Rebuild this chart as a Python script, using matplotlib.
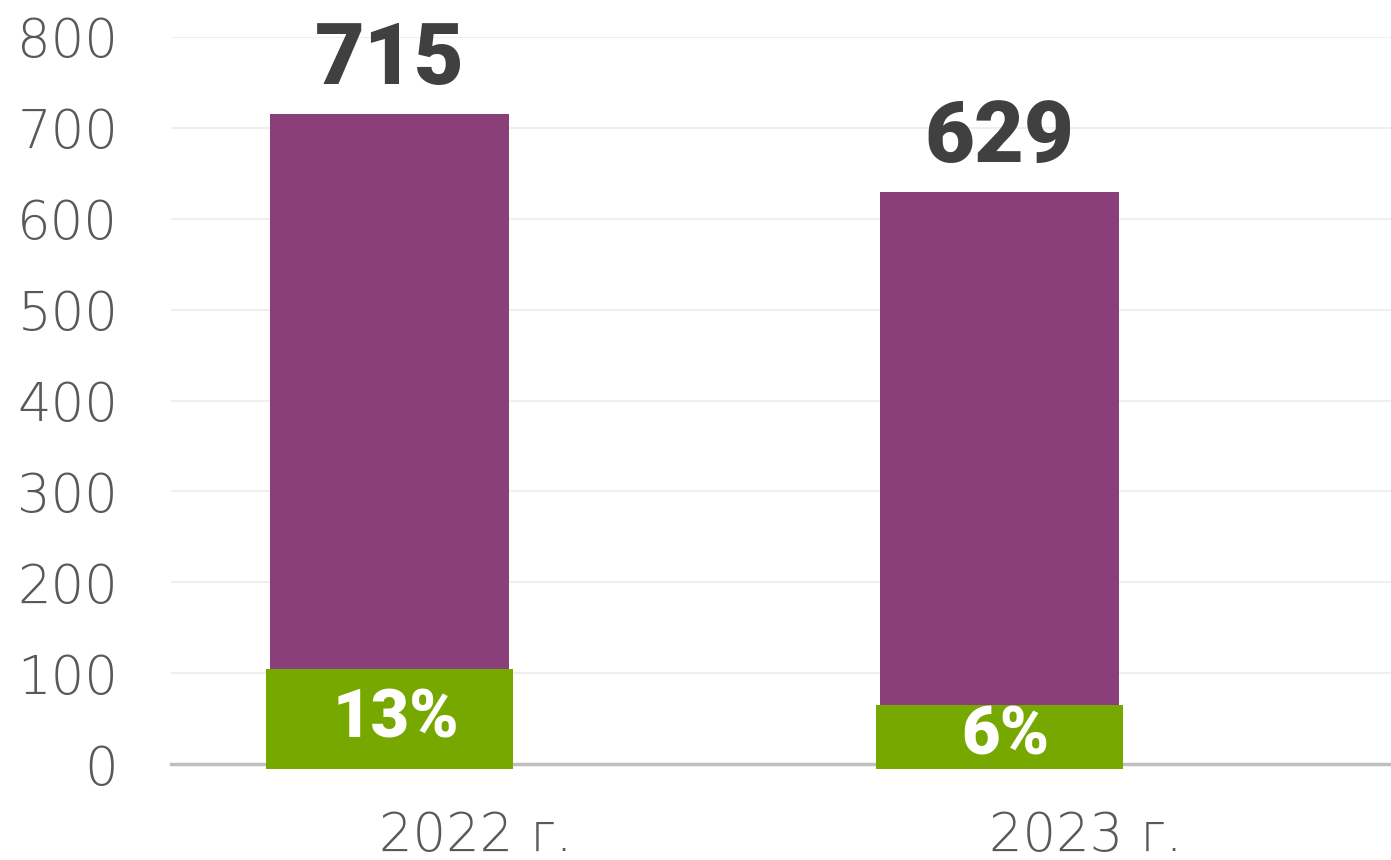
import numpy as np
import matplotlib.pyplot as plt

# --- data ---
years = ["2022 г.", "2023 г."]
totals = [715, 629]
shares = ["13%", "6%"]
share_box_top = [105, 65]     # visual height of the green label boxes
share_box_bottom = [-6, -5]

purple = "#8B3F7A"
green = "#76A800"

plt.rcParams['font.family'] = ['Roboto', 'DejaVu Sans']

fig = plt.figure(figsize=(13.91, 8.6), dpi=100)
ax = fig.add_axes([171 / 1391, 96 / 860, 1220 / 1391, 727 / 860])

x = np.arange(len(years))
offset = -0.142

ax.bar(x + offset, totals, width=0.393, color=purple, zorder=2)

box_h = np.array(share_box_top) - np.array(share_box_bottom)
ax.bar(x + offset, box_h, bottom=share_box_bottom, width=0.405,
       color=green, zorder=3, clip_on=False)

for i in range(len(years)):
    ax.annotate(str(totals[i]), (x[i] + offset, totals[i]), xytext=(0, 22),
                textcoords='offset points', ha='center', va='baseline',
                fontsize=62, fontweight='black', color='#404040',
                annotation_clip=False)
    mid = (share_box_top[i] + share_box_bottom[i]) / 2
    ax.text(x[i] + offset + 0.01, mid, shares[i], ha='center', va='center',
            fontsize=48, fontweight='black', color='white', zorder=4)

ax.set_xlim(-0.5, 1.5)
ax.set_ylim(0, 800)
ax.set_yticks(range(0, 801, 100))
ax.set_xticks(x)
ax.set_xticklabels(years)

ax.grid(axis='y', color='#EFEFEF', linewidth=1.5, zorder=0)
ax.set_axisbelow(True)
for s in ['top', 'right', 'left']:
    ax.spines[s].set_visible(False)
ax.spines['bottom'].set_color('#BFBFBF')
ax.spines['bottom'].set_linewidth(2.5)
ax.spines['bottom'].set_zorder(1)

ax.tick_params(axis='both', length=0, labelsize=38, labelcolor='#595959')
ax.tick_params(axis='y', pad=38)
ax.tick_params(axis='x', pad=33)
for lab in ax.get_xticklabels() + ax.get_yticklabels():
    lab.set_family('DejaVu Sans')
    lab.set_fontweight('light')

fig.savefig("out.png", dpi=100)
